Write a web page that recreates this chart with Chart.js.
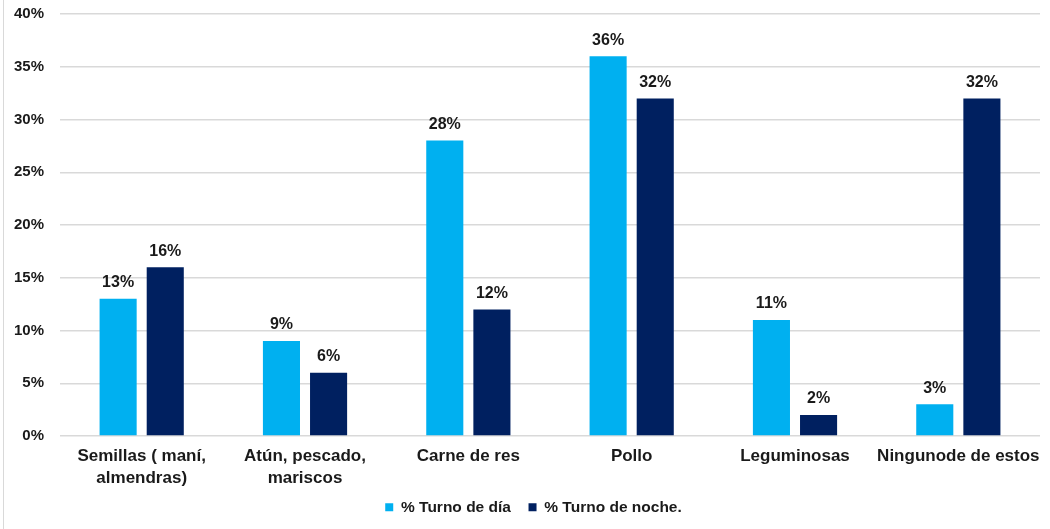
<!DOCTYPE html>
<html>
<head>
<meta charset="utf-8">
<script src="https://cdn.jsdelivr.net/npm/chart.js@4"></script>
<style>
  html, body { margin: 0; padding: 0; background: #fff; }
  #wrap { height: 529px; position: relative; box-sizing: border-box; border-left: 1px solid #d9d9d9; margin-left: 3px; width: 1047px; }
</style>
</head>
<body>
<div id="wrap"><canvas id="myChart"></canvas></div>
<script>
var categories = [
    ['Semillas ( maní,', 'almendras)'],
    ['Atún, pescado,', 'mariscos'],
    'Carne de res',
    'Pollo',
    'Leguminosas',
    'Ningunode de estos'
];
// percentages per shift
var turnoDia = [13, 9, 28, 36, 11, 3];
var turnoNoche = [16, 6, 12, 32, 2, 32];

var FONT = '"Liberation Sans", Arial, sans-serif';

// writes the value above each bar
var barLabels = {
    id: 'barLabels',
    afterDatasetsDraw: function(chart) {
        var ctx = chart.ctx;
        ctx.save();
        ctx.font = 'bold 16px ' + FONT;
        ctx.fillStyle = '#1a1a1a';
        ctx.textAlign = 'center';
        ctx.textBaseline = 'bottom';
        chart.data.datasets.forEach(function(ds, i) {
            chart.getDatasetMeta(i).data.forEach(function(bar, j) {
                ctx.fillText(ds.data[j] + '%', bar.x, bar.y - 8);
            });
        });
        ctx.restore();
    }
};

// nudge the legend a bit to the right of the canvas centre
var legendShift = {
    id: 'legendShift',
    afterLayout: function(chart) {
        if (chart.legend) chart.legend.left += 18;
    }
};

window.onload = function(){
    var ctx = document.getElementById('myChart');
    new Chart(ctx, {
        type: 'bar',
        data: {
            labels: categories,
            datasets: [{
                label: '% Turno de día',
                data: turnoDia,
                backgroundColor: '#00B0F0'
            }, {
                label: '% Turno de noche.',
                data: turnoNoche,
                backgroundColor: '#002060'
            }]
        },
        options: {
            responsive: true,
            maintainAspectRatio: false,
            animation: false,
            layout: { padding: { top: 0, right: 10, left: 5, bottom: 4 } },
            datasets: {
                bar: { categoryPercentage: 0.577, barPercentage: 0.787 }
            },
            scales: {
                x: {
                    grid: { display: false },
                    border: { display: false },
                    ticks: {
                        color: '#1a1a1a',
                        font: { family: FONT, size: 17, weight: 'bold', lineHeight: 1.25 },
                        maxRotation: 0,
                        autoSkip: false,
                        padding: 2
                    },
                    // keep the wide first/last labels from pushing the plot inwards
                    afterFit: function(scale) {
                        scale.paddingLeft = 0;
                        scale.paddingRight = 0;
                    }
                },
                y: {
                    min: 0,
                    max: 40,
                    grid: { color: '#d9d9d9', lineWidth: 1.5, drawTicks: true, tickLength: 11, tickColor: 'rgba(0,0,0,0)' },
                    border: { display: false },
                    ticks: {
                        stepSize: 5,
                        color: '#1a1a1a',
                        padding: 5,
                        font: { family: FONT, size: 15, weight: 'bold' },
                        callback: function(v) { return v + '%'; }
                    }
                }
            },
            plugins: {
                tooltip: { enabled: false },
                legend: {
                    position: 'bottom',
                    labels: {
                        boxWidth: 8,
                        boxHeight: 8,
                        padding: 9,
                        color: '#1a1a1a',
                        font: { family: FONT, size: 15.5, weight: 'bold' },
                        // a little extra room between the two entries
                        generateLabels: function(chart) {
                            var items = Chart.defaults.plugins.legend.labels.generateLabels(chart);
                            items[0].text = items[0].text + '  ';
                            return items;
                        }
                    }
                }
            }
        },
        plugins: [barLabels, legendShift]
    });
};
</script>
</body>
</html>
